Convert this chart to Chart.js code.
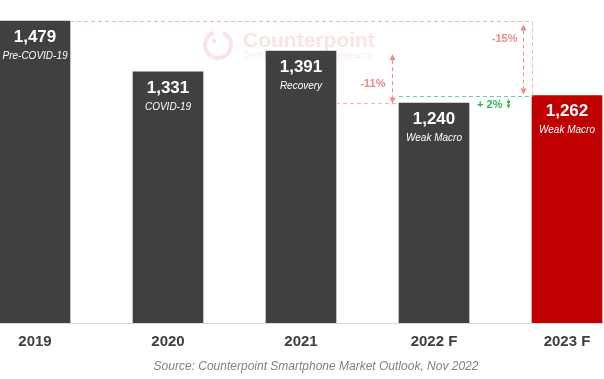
<!DOCTYPE html>
<html><head><meta charset="utf-8">
<script src="https://cdn.jsdelivr.net/npm/chart.js@4.4.0/dist/chart.umd.min.js"></script>
<style>html,body{margin:0;padding:0;background:#fff;overflow:hidden;}canvas{display:block;}</style>
</head><body>
<canvas id="c" width="604" height="379"></canvas>
<script>
// ---- data ----
const categories = ['2019', '2020', '2021', '2022 F', '2023 F'];
const shipments = [1479, 1331, 1391, 1240, 1262];
const phaseLabels = ['Pre-COVID-19', 'COVID-19', 'Recovery', 'Weak Macro', 'Weak Macro'];
const changeLabels = ['-15%', '-11%', '+ 2%'];
const sourceNote = 'Source: Counterpoint Smartphone Market Outlook, Nov 2022';
const watermarkTitle = 'Counterpoint';
const watermarkSub = 'Technology Market Research';

// ---- styling ----
const FONT = '"Liberation Sans", Arial, Helvetica, sans-serif';
const GRAY = '#404040', RED = '#c00000';
const PINK_LINE = '#f4b4b4', PINK = '#f08a8a', GREEN = '#2bb35a';

function dashed(ctx, x1, y1, x2, y2, color) {
  ctx.save(); ctx.strokeStyle = color; ctx.lineWidth = 1; ctx.setLineDash([4, 3]);
  ctx.beginPath(); ctx.moveTo(x1, y1); ctx.lineTo(x2, y2); ctx.stroke(); ctx.restore();
}
function head(ctx, x, y, dir, color, w, h) {
  ctx.save(); ctx.fillStyle = color; ctx.beginPath();
  ctx.moveTo(x, y); ctx.lineTo(x - w / 2, y - dir * h); ctx.lineTo(x + w / 2, y - dir * h);
  ctx.closePath(); ctx.fill(); ctx.restore();
}
function dblArrow(ctx, x, y1, y2, color, w, h) {
  dashed(ctx, x, y1 + h, x, y2 - h, color);
  head(ctx, x, y1, -1, color, w, h);
  head(ctx, x, y2, 1, color, w, h);
}
function txt(ctx, s, x, y, font, color, align) {
  ctx.save(); ctx.font = font; ctx.fillStyle = color; ctx.textAlign = align || 'center';
  ctx.textBaseline = 'middle'; ctx.fillText(s, x, y); ctx.restore();
}
const px = v => Math.round(v) + 0.5;

const annot = {
  id: 'annot',
  beforeDatasetsDraw(chart) {
    const ctx = chart.ctx;
    // watermark
    ctx.save();
    ctx.strokeStyle = '#fbe4e4'; ctx.lineWidth = 4;
    ctx.beginPath(); ctx.arc(218, 45, 13, -1.2, 4.4); ctx.stroke();
    ctx.fillStyle = '#fbe4e4'; ctx.beginPath(); ctx.arc(214, 41, 2.5, 0, 7); ctx.fill();
    ctx.restore();
    txt(ctx, watermarkTitle, 243, 41, 'bold 21px ' + FONT, '#fbe4e4', 'left');
    txt(ctx, watermarkSub, 243, 56, '10px ' + FONT, '#fbeaea', 'left');
    // baseline
    const a = chart.chartArea;
    ctx.save(); ctx.strokeStyle = '#d9d9d9'; ctx.lineWidth = 1;
    ctx.beginPath(); ctx.moveTo(0, px(a.bottom)); ctx.lineTo(chart.width, px(a.bottom)); ctx.stroke(); ctx.restore();
  },
  afterDatasetsDraw(chart) {
    const ctx = chart.ctx;
    const bars = chart.getDatasetMeta(0).data;
    const y = chart.scales.y;
    bars.forEach((b, i) => {
      txt(ctx, shipments[i].toLocaleString('en-US'), b.x, b.y + 16, 'bold 17px ' + FONT, '#ffffff');
      txt(ctx, phaseLabels[i], b.x, b.y + 35, 'italic 10px ' + FONT, '#ffffff');
    });
    const half = 35;
    const yTop = px(y.getPixelForValue(shipments[0]));
    const y21 = y.getPixelForValue(shipments[2]);
    const y22 = px(y.getPixelForValue(shipments[3]));
    const y23 = px(y.getPixelForValue(shipments[4]));
    const x23L = px(bars[4].x - half);
    // -15% : 2019 level to 2023 level
    dashed(ctx, bars[0].x + half, yTop, x23L, yTop, PINK_LINE);
    dashed(ctx, x23L, yTop, x23L, y23, PINK_LINE);
    const ax1 = px(bars[4].x - 44);
    dblArrow(ctx, ax1, yTop + 3, y23 - 2, PINK, 6, 6);
    txt(ctx, changeLabels[0], ax1 - 6, 39, 'bold 11px ' + FONT, PINK, 'right');
    // -11% : 2021 level to 2022 level
    dashed(ctx, bars[2].x + half, y22, bars[3].x - half, y22, PINK_LINE);
    const ax2 = px(bars[3].x - 42);
    dblArrow(ctx, ax2, y21 + 3, y22, PINK, 6, 6);
    txt(ctx, changeLabels[1], ax2 - 7, 84, 'bold 11px ' + FONT, PINK, 'right');
    // +2% : 2022 to 2023
    dashed(ctx, bars[3].x - half, y23, x23L, y23, '#6fcf8f');
    const ax3 = px(bars[4].x - 59);
    dblArrow(ctx, ax3, y23 + 2.5, y22 + 5, GREEN, 4, 4);
    txt(ctx, changeLabels[2], ax3 - 6, 105, 'bold 11px ' + FONT, GREEN, 'right');
    // source
    txt(ctx, sourceNote, 316, 367, 'italic 12px ' + FONT, '#808080');
  }
};

new Chart(document.getElementById('c'), {
  type: 'bar',
  data: {
    labels: categories,
    datasets: [{
      data: shipments,
      backgroundColor: c => c.dataIndex === 4 ? RED : GRAY,
      barThickness: 70,
      borderWidth: 0,
      clip: { left: 40, right: 40, top: 10, bottom: 0 }
    }]
  },
  options: {
    responsive: false, animation: false, devicePixelRatio: 1,
    layout: { padding: { left: 35, right: 37, top: 0, bottom: 0 } },
    plugins: { legend: { display: false }, tooltip: { enabled: false } },
    scales: {
      x: {
        offset: false,
        grid: { display: false, drawTicks: false },
        border: { display: false },
        ticks: { font: { family: FONT, size: 15, weight: 'bold' }, color: GRAY, padding: 10, maxRotation: 0, autoSkip: false },
        afterFit(s) { s.height = 56; }
      },
      y: { display: false, beginAtZero: false, min: 600, max: 1540 }
    }
  },
  plugins: [annot]
});
</script>
</body></html>
